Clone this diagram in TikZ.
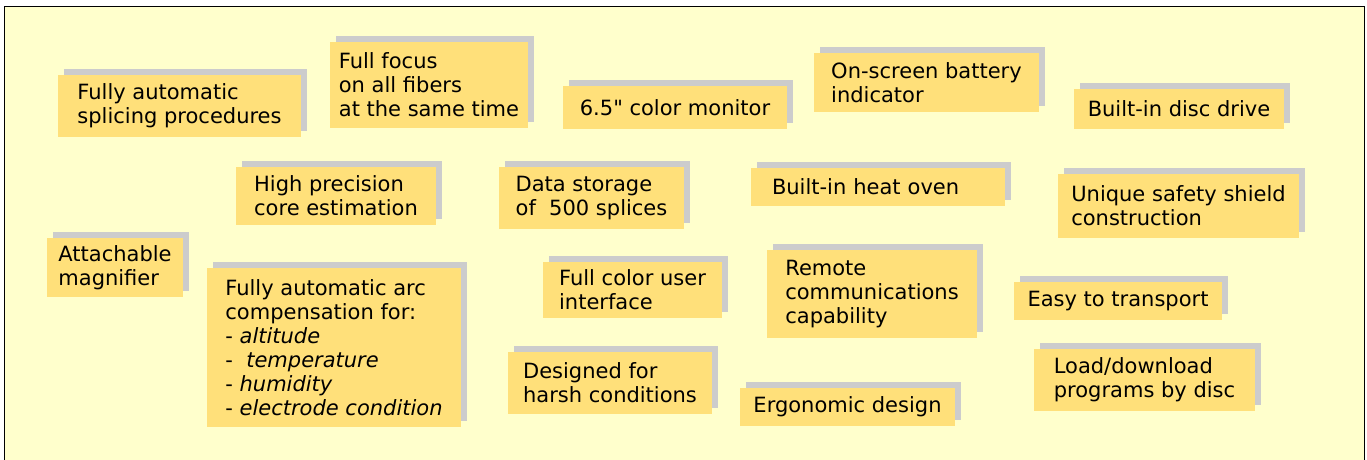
\documentclass[tikz,border=0pt]{standalone}
\usepackage{fontspec}
\setmainfont{DejaVu Sans}[Ligatures=TeXOff]
\usepackage{tikz}
\usetikzlibrary{shadows}
\definecolor{paper}{HTML}{FFFFCC}
\definecolor{notefill}{HTML}{FFE07A}
\definecolor{notegrey}{HTML}{CCCCCC}

\begin{document}
\begin{tikzpicture}[x=1pt,y=-1pt,
    note/.style={anchor=north west, fill=notefill, inner sep=0pt, outer sep=0pt,
      align=left, font=\fontsize{21}{24}\selectfont,
      drop shadow={shadow xshift=6pt, shadow yshift=6pt, fill=notegrey, opacity=1}}]
            \useasboundingbox (0,0) rectangle (1367,459);
            \fill[paper] (4.5,6.5) rectangle (1364.5,470);
            \draw[line width=1pt] (4.5,470) -- (4.5,6.5) -- (1364.5,6.5) -- (1364.5,470);

            \node[note, minimum width=243pt, minimum height=62pt] (splicing) at (58,75) {Fully automatic\\splicing procedures};
            \node[note, minimum width=198pt, minimum height=86pt] (focus) at (330,42) {Full focus\\on all fibers\\at the same time};
            \node[note, minimum width=224pt, minimum height=43pt] (monitor) at (563,86) {6.5" color monitor};
            \node[note, minimum width=225pt, minimum height=59pt] (battery) at (814,53) {On-screen battery\\indicator};
            \node[note, minimum width=210pt, minimum height=40pt] (disc) at (1074,89) {Built-in disc drive};

            \node[note, minimum width=200pt, minimum height=58pt] (precision) at (236,167) {High precision\\core estimation};
            \node[note, minimum width=185pt, minimum height=62pt] (storage) at (499,167) {Data storage\\of \ 500 splices};
            \node[note, inner xsep=21pt, text width=212pt, minimum height=38pt] (oven) at (751,168) {Built-in heat oven};
            \node[note, minimum width=241pt, minimum height=64pt] (shield) at (1058,174) {Unique safety shield\\construction};

            \node[note, minimum width=136pt, minimum height=59pt] (magnifier) at (47,238) {Attachable\\magnifier};
            \node[note, minimum width=254pt, minimum height=159pt] (arc) at (207,268) {Fully automatic arc\\compensation for:\\- \textit{altitude}\\- \ \textit{temperature}\\- \textit{humidity}\\- \textit{electrode condition}};
            \node[note, minimum width=179pt, minimum height=56pt] (interface) at (543,262) {Full color user\\interface};
            \node[note, minimum width=210pt, minimum height=88pt] (remote) at (767,250) {Remote\\communications\\capability};
            \node[note, minimum width=208pt, minimum height=38pt] (transport) at (1014,282) {Easy to transport};

            \node[note, minimum width=204pt, minimum height=62pt] (harsh) at (508,352) {Designed for\\harsh conditions};
            \node[note, minimum width=215pt, minimum height=38pt] (ergonomic) at (740,388) {Ergonomic design};
            \node[note, minimum width=221pt, minimum height=62pt] (load) at (1034,349) {Load/download\\programs by disc};
        \end{tikzpicture}
\end{document}
